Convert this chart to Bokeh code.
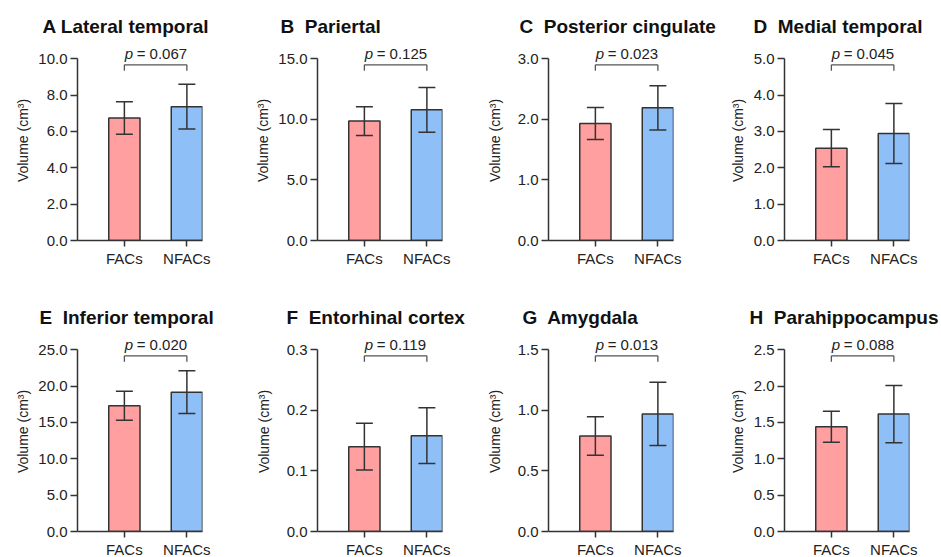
from bokeh.plotting import figure
from bokeh.layouts import row, column
from bokeh.models import (ColumnDataSource, Whisker, TeeHead, FixedTicker, Range1d,
                          NumeralTickFormatter)
from bokeh.embed import file_html
from bokeh.resources import INLINE
from bokeh.core.properties import value

# ---------------- data ----------------
categories = ["FACs", "NFACs"]
panel_titles = ["A Lateral temporal", "B\u00a0 Pariertal", "C\u00a0 Posterior cingulate",
                "D\u00a0 Medial temporal", "E\u00a0 Inferior temporal",
                "F\u00a0 Entorhinal cortex", "G\u00a0 Amygdala", "H\u00a0 Parahippocampus"]
y_max = [10.0, 15.0, 3.0, 5.0, 25.0, 0.3, 1.5, 2.5]
y_ticks = [
    [0, 2, 4, 6, 8, 10],
    [0, 5, 10, 15],
    [0, 1, 2, 3],
    [0, 1, 2, 3, 4, 5],
    [0, 5, 10, 15, 20, 25],
    [0, 0.1, 0.2, 0.3],
    [0, 0.5, 1.0, 1.5],
    [0, 0.5, 1.0, 1.5, 2.0, 2.5],
]
fac_mean = [6.74, 9.85, 1.93, 2.54, 17.30, 0.140, 0.788, 1.44]
fac_sd = [0.89, 1.19, 0.265, 0.515, 2.00, 0.0385, 0.158, 0.214]
nfac_mean = [7.36, 10.78, 2.19, 2.94, 19.16, 0.158, 0.970, 1.614]
nfac_sd = [1.23, 1.84, 0.365, 0.825, 2.93, 0.046, 0.261, 0.394]
p_values = ["0.067", "0.125", "0.023", "0.045", "0.020", "0.119", "0.013", "0.088"]

# ---------------- style / layout ----------------
FONT = "Liberation Sans"
FAC_COLOR = "#FF9F9F"
NFAC_COLOR = "#8FBFF7"
DARK = "#333333"
col_widths = [240, 231, 253, 217]
col_left = [77, 77, 77, 60]
label_standoff_adj = [0, 0, 0, -7]
title_offsets = [-35, -37, -29, -31, -38, -31, -26, -35]
FRAME_W = 125
row_frame_h = [200, 200]
row_top = [40, 31]
row_bottom = [60, 0]


def make_panel(i):
    r, c = divmod(i, 4)
    ymax = y_max[i]
    p = figure(frame_width=FRAME_W, frame_height=row_frame_h[r],
               x_range=Range1d(0.25, 2.25), y_range=Range1d(0, ymax * 1.1),
               output_backend="svg", toolbar_location=None,
               min_border_left=col_left[c],
               min_border_right=col_widths[c] - col_left[c] - FRAME_W,
               min_border_top=row_top[r], min_border_bottom=row_bottom[r])
    p.outline_line_color = None
    p.xgrid.visible = False
    p.ygrid.visible = False
    p.background_fill_color = "white"
    p.border_fill_color = "white"

    # title
    p.title.text = panel_titles[i]
    p.title.text_font = FONT
    p.title.text_font_size = "19px"
    p.title.text_font_style = "bold"
    p.title.text_color = "#111111"
    p.title.align = "left"
    p.title.offset = title_offsets[i]
    p.title.standoff = 7

    src = ColumnDataSource(dict(
        x=[1, 2],
        top=[fac_mean[i], nfac_mean[i]],
        upper=[fac_mean[i] + fac_sd[i], nfac_mean[i] + nfac_sd[i]],
        lower=[fac_mean[i] - fac_sd[i], nfac_mean[i] - nfac_sd[i]],
        color=[FAC_COLOR, NFAC_COLOR],
    ))
    p.vbar(x="x", top="top", width=0.5, fill_color="color", line_color=DARK,
           line_width=1.5, source=src)
    w = Whisker(base="x", upper="upper", lower="lower", source=src,
                line_color=DARK, line_width=1.5, level="annotation",
                upper_head=TeeHead(size=17, line_color=DARK, line_width=1.5),
                lower_head=TeeHead(size=17, line_color=DARK, line_width=1.5))
    p.add_layout(w)

    # significance bracket
    b = ymax * 0.966
    d = ymax * 0.032
    p.segment(x0=[1, 1, 2], y0=[b, b, b], x1=[2, 1, 2], y1=[b, b - d, b - d],
              line_color="#555555", line_width=1.3)
    ty = ymax * 1.026
    p.text(x=[1.5], y=[ty], text=["p"], text_font=value(FONT), text_font_style="italic",
           text_font_size="15px", text_align="left", text_baseline="middle",
           x_offset=-31, text_color="#222222")
    p.text(x=[1.5], y=[ty], text=["= " + p_values[i]], text_font=value(FONT),
           text_font_size="15px", text_align="left", text_baseline="middle",
           x_offset=-19, text_color="#222222")

    # axes
    for ax in (p.xaxis[0], p.yaxis[0]):
        ax.axis_line_color = DARK
        ax.axis_line_width = 1.5
        ax.major_tick_line_color = DARK
        ax.major_tick_line_width = 1.5
        ax.minor_tick_line_color = None
        ax.major_label_text_font = FONT
        ax.major_label_text_font_size = "15px"
        ax.major_label_text_color = "#222222"
    xa = p.xaxis[0]
    xa.ticker = FixedTicker(ticks=[1, 2])
    xa.major_label_overrides = {1: categories[0], 2: categories[1]}
    xa.major_tick_in = 0
    xa.major_tick_out = 6
    xa.major_label_standoff = 3

    ya = p.yaxis[0]
    ya.ticker = FixedTicker(ticks=y_ticks[i])
    ya.formatter = NumeralTickFormatter(format="0.0")
    ya.bounds = (0, ymax)
    ya.major_tick_in = 0
    ya.major_tick_out = 7
    ya.major_label_standoff = 3
    ya.axis_label = "Volume (cm³)"
    ya.axis_label_text_font = FONT
    ya.axis_label_text_font_size = "14px"
    ya.axis_label_text_font_style = "normal"
    ya.axis_label_text_color = "#222222"
    ya.axis_label_standoff = (4 if ymax >= 10 else 12) + label_standoff_adj[c]
    return p


panels = [make_panel(i) for i in range(8)]
layout = column(row(*panels[:4]), row(*panels[4:]))

open("out.html", "w").write(file_html(layout, INLINE))
